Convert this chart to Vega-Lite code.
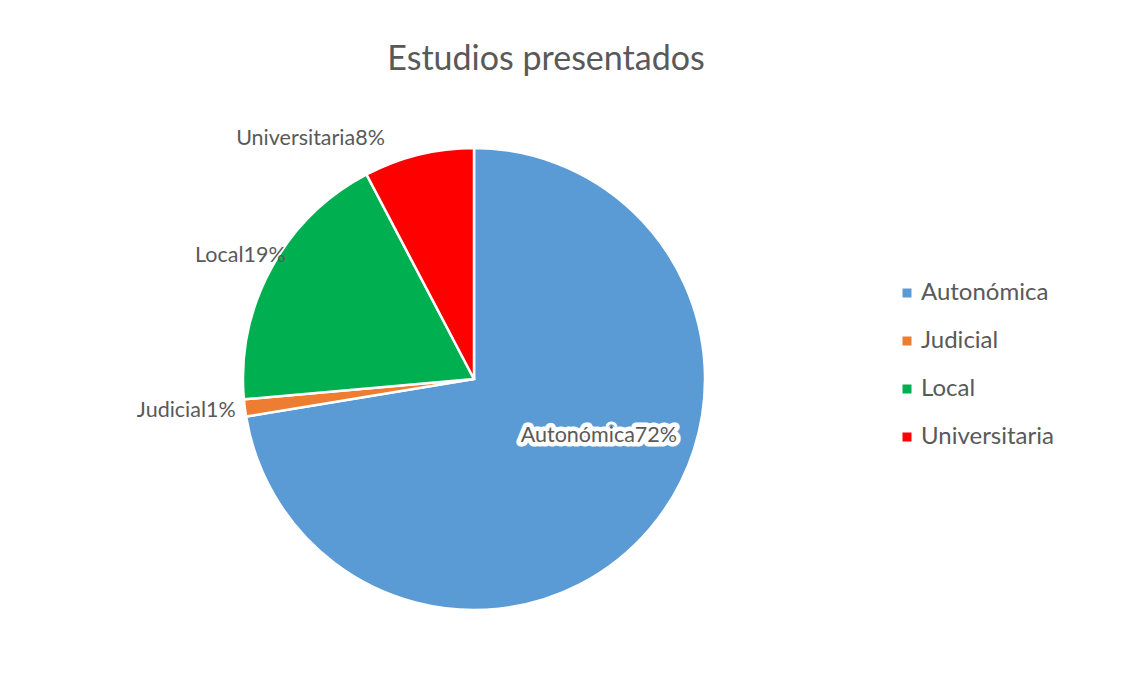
{
  "$schema": "https://vega.github.io/schema/vega-lite/v6.json",
  "width": 462,
  "height": 462,
  "autosize": "none",
  "padding": {"left": 243, "top": 148, "right": 423, "bottom": 63},
  "background": "white",
  "title": {
    "text": "Estudios presentados",
    "font": "Lato",
    "fontSize": 34,
    "fontWeight": "normal",
    "color": "#595959",
    "anchor": "middle",
    "dx": 72,
    "offset": 6
  },
  "config": {"view": {"stroke": null}},
  "data": {
    "values": [
      {"category": "Autonómica", "value": 72.4, "label": "Autonómica72%"},
      {"category": "Judicial", "value": 1.2, "label": "Judicial1%"},
      {"category": "Local", "value": 18.7, "label": "Local19%"},
      {"category": "Universitaria", "value": 7.7, "label": "Universitaria8%"}
    ]
  },
  "encoding": {
    "theta": {"field": "value", "type": "quantitative", "stack": true},
    "detail": {"field": "category", "type": "nominal"}
  },
  "layer": [
    {
      "mark": {"type": "arc", "outerRadius": 231, "stroke": "white", "strokeWidth": 2.5},
      "encoding": {
        "color": {
          "field": "category",
          "type": "nominal",
          "scale": {
            "domain": ["Autonómica", "Judicial", "Local", "Universitaria"],
            "range": ["#5B9BD5", "#ED7D31", "#00B050", "#FF0000"]
          },
          "legend": {
            "orient": "none",
            "legendX": 652,
            "legendY": 133,
            "title": null,
            "symbolType": "square",
            "symbolSize": 81,
            "symbolStrokeWidth": 0,
            "labelFont": "Lato",
            "labelFontSize": 24,
            "labelColor": "#595959",
            "labelOffset": 2,
            "rowPadding": 24
          }
        }
      }
    },
    {
      "mark": {"type": "text", "radius": 110, "dx": 41, "dy": -14, "font": "Lato", "fontSize": 21.5, "baseline": "middle", "align": "center", "fill": "white", "stroke": "white", "strokeWidth": 9, "strokeJoin": "round"},
      "encoding": {"text": {"condition": {"test": "datum.category === 'Autonómica'", "field": "label"}, "value": ""}}
    },
    {
      "mark": {"type": "text", "radius": 110, "dx": 41, "dy": -14, "font": "Lato", "fontSize": 21.5, "baseline": "middle", "align": "center", "fill": "#595959"},
      "encoding": {"text": {"condition": {"test": "datum.category === 'Autonómica'", "field": "label"}, "value": ""}}
    },
    {
      "mark": {"type": "text", "radius": 289, "dx": -1, "dy": -4, "font": "Lato", "fontSize": 21.5, "baseline": "middle", "align": "center", "fill": "#595959"},
      "encoding": {"text": {"condition": {"test": "datum.category === 'Judicial'", "field": "label"}, "value": ""}}
    },
    {
      "mark": {"type": "text", "radius": 265, "dx": -1, "dy": 4, "font": "Lato", "fontSize": 21.5, "baseline": "middle", "align": "center", "fill": "#595959"},
      "encoding": {"text": {"condition": {"test": "datum.category === 'Local'", "field": "label"}, "value": ""}}
    },
    {
      "mark": {"type": "text", "radius": 265, "dx": -100, "dy": 17, "font": "Lato", "fontSize": 21.5, "baseline": "middle", "align": "center", "fill": "#595959"},
      "encoding": {"text": {"condition": {"test": "datum.category === 'Universitaria'", "field": "label"}, "value": ""}}
    }
  ]
}
